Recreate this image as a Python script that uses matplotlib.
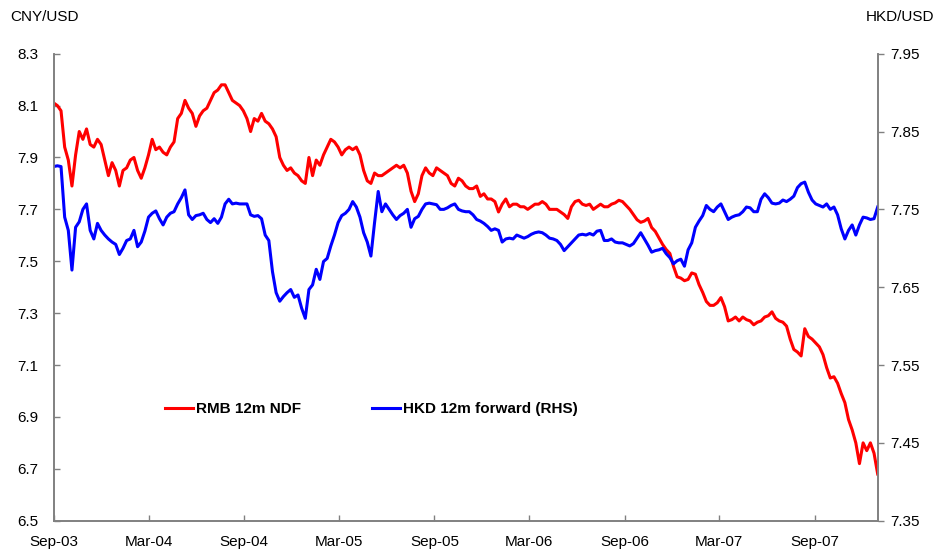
import matplotlib.pyplot as plt
import pandas as pd
import numpy as np

plt.rcParams['font.family'] = ['Liberation Sans', 'DejaVu Sans']

# weekly readings, Sep-03 to end Dec-07
dates = pd.date_range("2003-09-01", "2007-12-31", freq="7D")

# RMB 12m NDF, CNY per USD (left axis)
rmb_ndf = [
    8.11, 8.10, 8.08, 7.94, 7.89, 7.79, 7.91, 8.00, 7.97, 8.01,
    7.95, 7.94, 7.97, 7.95, 7.89, 7.83, 7.88, 7.85, 7.79, 7.85,
    7.86, 7.89, 7.90, 7.85, 7.82, 7.86, 7.91, 7.97, 7.93, 7.94,
    7.92, 7.91, 7.94, 7.96, 8.05, 8.07, 8.12, 8.09, 8.07, 8.02,
    8.06, 8.08, 8.09, 8.12, 8.15, 8.16, 8.18, 8.18, 8.15, 8.12,
    8.11, 8.10, 8.08, 8.05, 8.00, 8.05, 8.04, 8.07, 8.04, 8.03,
    8.01, 7.98, 7.90, 7.87, 7.85, 7.86, 7.84, 7.83, 7.81, 7.80,
    7.90, 7.83, 7.89, 7.87, 7.91, 7.94, 7.97, 7.96, 7.94, 7.91,
    7.93, 7.94, 7.93, 7.94, 7.91, 7.85, 7.81, 7.80, 7.84, 7.83,
    7.83, 7.84, 7.85, 7.86, 7.87, 7.86, 7.87, 7.84, 7.77, 7.73,
    7.76, 7.83, 7.86, 7.84, 7.83, 7.86, 7.85, 7.84, 7.83, 7.80,
    7.79, 7.82, 7.81, 7.79, 7.78, 7.78, 7.79, 7.75, 7.76, 7.74,
    7.74, 7.73, 7.69, 7.72, 7.74, 7.71, 7.72, 7.72, 7.71, 7.71,
    7.70, 7.71, 7.72, 7.72, 7.73, 7.72, 7.70, 7.70, 7.70, 7.69,
    7.68, 7.665, 7.71, 7.73, 7.735, 7.72, 7.715, 7.72, 7.70, 7.71,
    7.72, 7.71, 7.71, 7.72, 7.725, 7.735, 7.73, 7.715, 7.70, 7.68,
    7.66, 7.65, 7.655, 7.665, 7.63, 7.615, 7.59, 7.565, 7.545, 7.53,
    7.48, 7.44, 7.435, 7.425, 7.43, 7.455, 7.45, 7.41, 7.38, 7.345,
    7.33, 7.33, 7.34, 7.36, 7.325, 7.27, 7.275, 7.285, 7.27, 7.285,
    7.275, 7.27, 7.255, 7.265, 7.27, 7.285, 7.29, 7.305, 7.28, 7.27,
    7.265, 7.25, 7.20, 7.16, 7.15, 7.135, 7.24, 7.21, 7.20, 7.185,
    7.17, 7.14, 7.09, 7.05, 7.055, 7.03, 6.99, 6.955, 6.89, 6.85,
    6.80, 6.72, 6.80, 6.77, 6.80, 6.76, 6.68,
]

# HKD 12m forward, HKD per USD (right axis)
hkd_fwd = [
    7.805, 7.806, 7.805, 7.740, 7.723, 7.672, 7.727, 7.734, 7.750, 7.757,
    7.723, 7.712, 7.732, 7.723, 7.717, 7.712, 7.708, 7.705, 7.692, 7.700,
    7.710, 7.712, 7.723, 7.702, 7.708, 7.722, 7.740, 7.745, 7.748, 7.738,
    7.730, 7.740, 7.745, 7.747, 7.757, 7.765, 7.775, 7.743, 7.737, 7.742,
    7.743, 7.745, 7.737, 7.733, 7.738, 7.732, 7.740, 7.757, 7.763, 7.757,
    7.758, 7.757, 7.757, 7.757, 7.743, 7.741, 7.742, 7.738, 7.717, 7.710,
    7.670, 7.643, 7.632, 7.638, 7.643, 7.647, 7.637, 7.640, 7.623, 7.610,
    7.647, 7.653, 7.673, 7.660, 7.683, 7.687, 7.703, 7.717, 7.733, 7.742,
    7.745, 7.750, 7.760, 7.753, 7.740, 7.720, 7.708, 7.690, 7.733, 7.773,
    7.747, 7.757, 7.750, 7.743, 7.737, 7.742, 7.745, 7.750, 7.727, 7.738,
    7.741, 7.750, 7.757, 7.758, 7.757, 7.756, 7.750, 7.750, 7.752, 7.755,
    7.757, 7.750, 7.748, 7.747, 7.747, 7.743, 7.737, 7.735, 7.732, 7.728,
    7.723, 7.725, 7.723, 7.708, 7.712, 7.713, 7.712, 7.717, 7.715, 7.713,
    7.715, 7.718, 7.720, 7.721, 7.720, 7.717, 7.713, 7.712, 7.710, 7.705,
    7.697, 7.702, 7.707, 7.712, 7.717, 7.718, 7.717, 7.719, 7.717, 7.722,
    7.723, 7.710, 7.710, 7.712, 7.708, 7.707, 7.707, 7.705, 7.703, 7.706,
    7.713, 7.720, 7.712, 7.704, 7.695, 7.697, 7.698, 7.700, 7.693, 7.688,
    7.680, 7.684, 7.686, 7.677, 7.698, 7.707, 7.727, 7.735, 7.742, 7.755,
    7.750, 7.747, 7.753, 7.757, 7.747, 7.737, 7.740, 7.742, 7.743, 7.747,
    7.753, 7.752, 7.747, 7.747, 7.763, 7.770, 7.765, 7.758, 7.757, 7.758,
    7.762, 7.760, 7.763, 7.767, 7.778, 7.783, 7.785, 7.772, 7.762, 7.757,
    7.755, 7.753, 7.757, 7.750, 7.753, 7.743, 7.725, 7.712, 7.723, 7.730,
    7.717, 7.730, 7.740, 7.739, 7.737, 7.738, 7.753,
]

left_ticks = [6.5, 6.7, 6.9, 7.1, 7.3, 7.5, 7.7, 7.9, 8.1, 8.3]
right_ticks = [7.35, 7.45, 7.55, 7.65, 7.75, 7.85, 7.95]
tick_dates = pd.date_range("2003-09-01", "2007-09-01", freq="6MS")
tick_labels = [d.strftime("%b-%y") for d in tick_dates]

fig = plt.figure(figsize=(9.36, 5.53), dpi=100)
ax = fig.add_axes([0.0574, 0.0584, 0.8803, 0.8445])
ax2 = ax.twinx()

l1, = ax.plot(dates, rmb_ndf, color='#ff0000', lw=2.2, label='RMB 12m NDF')
l2, = ax2.plot(dates, hkd_fwd, color='#0000ff', lw=2.2, label='HKD 12m forward (RHS)')

ax.set_xlim(dates[0], pd.Timestamp("2007-12-31"))
ax.set_ylim(6.5, 8.3)
ax2.set_ylim(7.35, 7.95)
ax.set_yticks(left_ticks)
ax.set_yticklabels(['%.1f' % v for v in left_ticks])
ax2.set_yticks(right_ticks)
ax2.set_yticklabels(['%.2f' % v for v in right_ticks])
ax.set_xticks(tick_dates)
ax.set_xticklabels(tick_labels)

for a in (ax, ax2):
    a.spines['top'].set_visible(False)
    for s in ('left', 'right', 'bottom'):
        a.spines[s].set_color('#808080')
        a.spines[s].set_linewidth(1.2)

ax.tick_params(axis='x', direction='in', length=4, width=1, color='#808080', pad=10, labelsize=11)
ax.tick_params(axis='y', direction='in', length=4, width=1, color='#808080', pad=11, labelsize=11)
ax2.tick_params(axis='y', direction='out', length=4, width=1, color='#808080', pad=5, labelsize=11)

fig.text(10 / 936, 1 - 17 / 553, 'CNY/USD', ha='left', va='center', fontsize=11)
fig.text(934 / 936, 1 - 17 / 553, 'HKD/USD', ha='right', va='center', fontsize=11)

fig.legend([l1, l2], [l1.get_label(), l2.get_label()], loc='center left',
           bbox_to_anchor=(165 / 936, 1 - 409 / 553), ncol=2, frameon=False,
           borderpad=0, borderaxespad=0, handlelength=1.85, handletextpad=0.2,
           columnspacing=4.6, prop={'weight': 'bold', 'size': 11})

fig.savefig('out.png', dpi=100)
